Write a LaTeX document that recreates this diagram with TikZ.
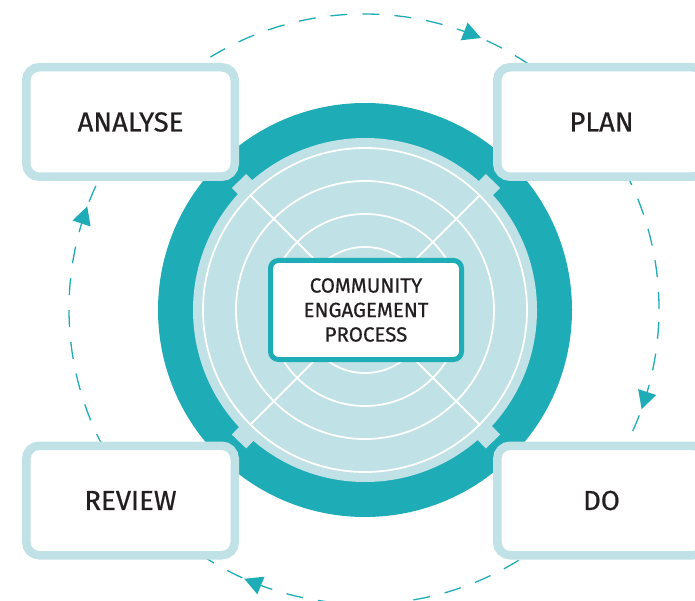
\documentclass[tikz,border=0pt]{standalone}
\usepackage{fontspec}
\usetikzlibrary{calc}
\setmainfont{Fira Sans}[FakeBold=0.6]
\definecolor{tealc}{HTML}{1EACB6}
\definecolor{lightc}{HTML}{C0E1E5}
\definecolor{txtc}{HTML}{231F20}
\pgfdeclarelayer{disclayer}
\pgfdeclarelayer{bandlayer}
\pgfdeclarelayer{innerlayer}
\pgfsetlayers{disclayer,bandlayer,innerlayer,main}
\begin{document}
\begin{tikzpicture}[x=1pt,y=1pt,
  stagebox/.style={draw=lightc, line width=8.5pt, fill=white, rounded corners=13pt,
    minimum width=208.5pt, minimum height=109.5pt, inner sep=0pt,
    text=txtc, font=\fontsize{27.5}{32}\selectfont},
  corebox/.style={draw=tealc, line width=5pt, fill=white, rounded corners=8pt,
    minimum width=191pt, minimum height=99pt, inner sep=0pt, align=center,
    text=txtc, font=\fontsize{20.5}{24.5}\selectfont},
  cyclearrow/.style={fill=tealc},
  ringline/.style={draw=white, line width=1.8pt},
  band/.style={draw=lightc, line width=20pt}
]
\clip (0,0) rectangle (695,600);
\coordinate (D) at (364,291);
\coordinate (C) at (365,290);
% boxes on top (main layer)
\node[stagebox] (analyse) at (130.5,478) {ANALYSE};
\node[stagebox] (plan) at (601.5,478) {PLAN};
\node[stagebox] (review) at (130.5,99.5) {REVIEW};
\node[stagebox] (do) at (601.5,99.5) {DO};
\begin{pgfonlayer}{disclayer}
  \draw[tealc, line width=1.3pt, dash pattern=on 17pt off 15pt] (D) circle (295);
  \foreach \a in {68.6,-17.9,-112,161.6}{
    \fill[cyclearrow, shift={($(D)+(\a:295)$)}, rotate=\a-90]
      (10,0) -- (-8,9.5) -- (-8,-9.5) -- cycle;
  }
  \fill[tealc] (C) circle (207);
\end{pgfonlayer}
\begin{pgfonlayer}{bandlayer}
  \draw[band] (C) -- (analyse.south east);
  \draw[band] (C) -- (plan.south west);
  \draw[band] (C) -- (review.north east);
  \draw[band] (C) -- (do.north west);
\end{pgfonlayer}
\begin{pgfonlayer}{innerlayer}
  \fill[lightc] (C) circle (172);
  \foreach \r in {162,129,96,63,30}{
    \draw[ringline] (C) circle (\r);
  }
  \foreach \a in {45,135,225,315}{
    \draw[ringline] (C) -- ++(\a:163);
  }
  \node[corebox] (core) at (366,290) {COMMUNITY\\ENGAGEMENT\\PROCESS};
\end{pgfonlayer}
\end{tikzpicture}
\end{document}
